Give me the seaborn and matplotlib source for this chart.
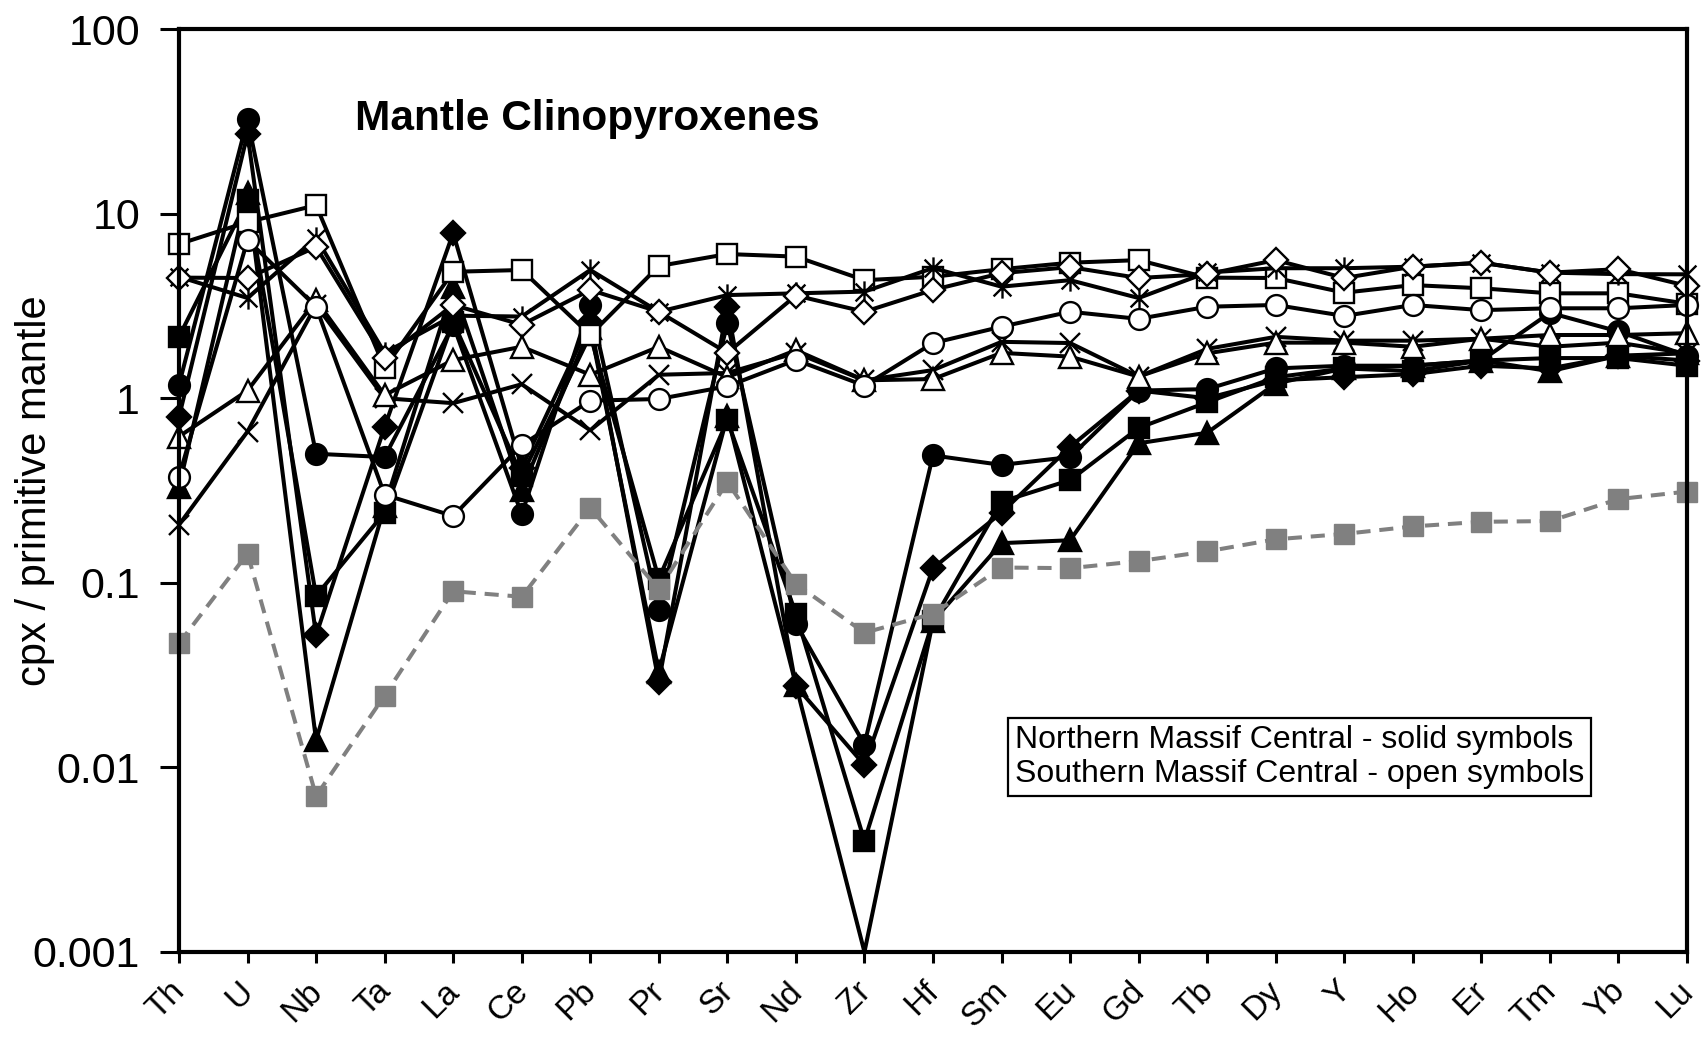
import numpy as np
import pandas as pd
import seaborn as sns
import matplotlib
matplotlib.use("Agg")
import matplotlib.pyplot as plt
import matplotlib.transforms as mtransforms
from matplotlib.path import Path
from matplotlib.ticker import FixedLocator, NullLocator

# Trace elements, ordered as in the spider diagram
elements = ["Th", "U", "Nb", "Ta", "La", "Ce", "Pb", "Pr", "Sr", "Nd", "Zr", "Hf",
            "Sm", "Eu", "Gd", "Tb", "Dy", "Y", "Ho", "Er", "Tm", "Yb", "Lu"]

# Northern Massif Central (solid symbols)
north_circle = [1.18, 32.5, 0.50, 0.48, 2.5, 0.235, 3.2, 0.071, 2.55, 0.060, 0.0133, 0.49,
                0.435, 0.48, 1.10, 1.12, 1.45, 1.50, 1.50, 1.60, 2.90, 2.30, 1.70]
north_diamond = [0.79, 27.0, 0.052, 0.70, 7.85, 0.42, 2.6, 0.029, 3.13, 0.0276, 0.0103, 0.12,
                 0.24, 0.545, 1.10, 1.00, 1.25, 1.30, 1.35, 1.50, 1.45, 1.70, 1.60]
north_square = [2.15, 11.9, 0.085, 0.24, 2.6, 0.38, 2.2, 0.105, 0.76, 0.068, 0.0040, 0.062,
                0.275, 0.36, 0.69, 0.95, 1.30, 1.45, 1.40, 1.60, 1.65, 1.65, 1.50]
north_triangle = [0.33, 13.0, 0.014, 0.26, 4.0, 0.32, 2.4, 0.033, 0.80, 0.028, 0.001, 0.062,
                  0.164, 0.17, 0.57, 0.65, 1.20, 1.45, 1.50, 1.60, 1.40, 1.70, 1.75]

# Southern Massif Central (open symbols)
south_square = [6.84, 9.0, 11.1, 1.46, 4.84, 4.95, 2.2, 5.2, 6.04, 5.85, 4.36, 4.55,
                5.0, 5.42, 5.6, 4.5, 4.48, 3.73, 4.1, 3.94, 3.7, 3.7, 3.25]
south_diamond = [4.5, 4.48, 6.6, 1.65, 3.2, 2.5, 3.86, 2.94, 1.76, 3.6, 2.94, 3.86,
                 4.76, 5.13, 4.48, 4.7, 5.6, 4.48, 5.16, 5.42, 4.79, 5.0, 4.06]
south_asterisk = [4.55, 3.49, 7.4, 1.76, 2.8, 2.77, 4.95, 2.94, 3.62, 3.7, 3.78, 5.07,
                  4.02, 4.36, 3.49, 4.8, 5.06, 5.06, 5.16, 5.42, 4.79, 4.7, 4.69]
south_circle = [0.376, 7.2, 3.13, 0.30, 0.23, 0.557, 0.97, 0.99, 1.16, 1.61, 1.17, 1.99,
                2.44, 2.94, 2.69, 3.13, 3.2, 2.79, 3.2, 3.0, 3.07, 3.07, 3.2]
south_triangle = [0.62, 1.10, 3.4, 1.04, 1.61, 1.90, 1.34, 1.90, 1.30, 1.82, 1.25, 1.27,
                  1.76, 1.68, 1.31, 1.75, 2.0, 2.0, 1.9, 2.1, 2.2, 2.2, 2.25]
south_cross = [0.206, 0.66, 3.2, 1.0, 0.94, 1.19, 0.67, 1.34, 1.37, 1.76, 1.25, 1.42,
               2.02, 1.99, 1.31, 1.85, 2.15, 2.05, 2.05, 2.1, 1.9, 2.0, 1.75]

# Reference pattern drawn as a grey dashed line
reference = [0.047, 0.144, 0.0070, 0.0245, 0.090, 0.084, 0.255, 0.092, 0.352, 0.0986, 0.0536,
             0.068, 0.121, 0.120, 0.131, 0.148, 0.172, 0.184, 0.202, 0.214, 0.216, 0.284, 0.312]

y_ticks = [0.001, 0.01, 0.1, 1, 10, 100]
y_tick_labels = ["0.001", "0.01", "0.1", "1", "10", "100"]
y_min, y_max = 0.001, 100

# Excel-style asterisk: an X with a vertical bar
asterisk = Path([(-1, -1), (1, 1), (-1, 1), (1, -1), (0, -1.25), (0, 1.25)],
                [Path.MOVETO, Path.LINETO, Path.MOVETO, Path.LINETO, Path.MOVETO, Path.LINETO])

sns.set_theme(style="ticks")
plt.rcParams["font.family"] = ["Liberation Sans", "DejaVu Sans"]

fig = plt.figure(figsize=(17.03, 10.37), dpi=100)
ax = fig.add_axes([0.1051, 0.082, 0.8855, 0.890])

x = np.arange(len(elements))
LW = 2.9

series = [
    # filled symbols first, open symbols on top, reference pattern last
    dict(y=north_triangle, marker="^", ms=16, mfc="black", z=3),
    dict(y=north_square, marker="s", ms=14, mfc="black", z=3),
    dict(y=north_diamond, marker="D", ms=12, mfc="black", z=3),
    dict(y=north_circle, marker="o", ms=15, mfc="black", z=3),
    dict(y=south_square, marker="s", ms=14, mfc="white", z=4),
    dict(y=south_asterisk, marker=asterisk, ms=16, mfc="none", z=4),
    dict(y=south_diamond, marker="D", ms=12, mfc="white", z=4),
    dict(y=south_cross, marker="x", ms=14, mfc="none", z=4),
    dict(y=south_triangle, marker="^", ms=16, mfc="white", z=4),
    dict(y=south_circle, marker="o", ms=15, mfc="white", z=4),
]

for s in series:
    vals = np.asarray(s["y"], dtype=float)
    shown = [i for i, v in enumerate(vals) if v > y_min]
    sns.lineplot(x=x, y=vals, ax=ax, color="black", linewidth=LW,
                 marker=s["marker"], markersize=s["ms"], markerfacecolor=s["mfc"],
                 markeredgecolor="black", markeredgewidth=1.7,
                 markevery=shown, clip_on=False, zorder=s["z"], sort=False)

sns.lineplot(x=x, y=reference, ax=ax, color="#808080", linewidth=LW,
             linestyle=(0, (3.5, 2.2)), marker="s", markersize=14,
             markerfacecolor="#808080", markeredgecolor="#808080", markeredgewidth=1,
             clip_on=False, zorder=5, sort=False)

ax.set_yscale("log")
ax.set_ylim(y_min, y_max)
ax.set_xlim(0, len(elements) - 1)
ax.yaxis.set_major_locator(FixedLocator(y_ticks))
ax.yaxis.set_minor_locator(NullLocator())
ax.set_yticklabels(y_tick_labels)
ax.set_xticks(x)
ax.set_xticklabels(elements, rotation=45, ha="right", rotation_mode="anchor")

ax.tick_params(axis="y", which="major", direction="out", length=14, width=2.2,
               labelsize=31, pad=14, colors="black")
ax.tick_params(axis="x", which="major", direction="out", length=8, width=2.2,
               labelsize=24, pad=9, colors="black")

# nudge the slanted element labels a little to the left
nudge = mtransforms.ScaledTranslation(-7 / 72, 0, fig.dpi_scale_trans)
for lab in ax.get_xticklabels():
    lab.set_transform(lab.get_transform() + nudge)

for side in ["left", "right", "top", "bottom"]:
    ax.spines[side].set_visible(True)
    ax.spines[side].set_color("black")
    ax.spines[side].set_linewidth(3.0)
    ax.spines[side].set_zorder(6)

ax.set_xlabel("")
ax.set_ylabel("cpx / primitive mantle", fontsize=30, color="black")
ax.yaxis.set_label_coords(-0.082, 0.5)

ax.text(0.1167, 0.9025, "Mantle Clinopyroxenes", transform=ax.transAxes,
        fontsize=30.5, fontweight="bold", ha="left", va="center", color="black")

ax.text(0.5545, 0.2113,
        "Northern Massif Central - solid symbols\nSouthern Massif Central - open symbols",
        transform=ax.transAxes, fontsize=23, ha="left", va="center", color="black",
        linespacing=1.2, zorder=7,
        bbox=dict(boxstyle="square,pad=0.22", facecolor="white", edgecolor="black",
                  linewidth=1.6))

fig.savefig("out.png", dpi=100, facecolor="white")
